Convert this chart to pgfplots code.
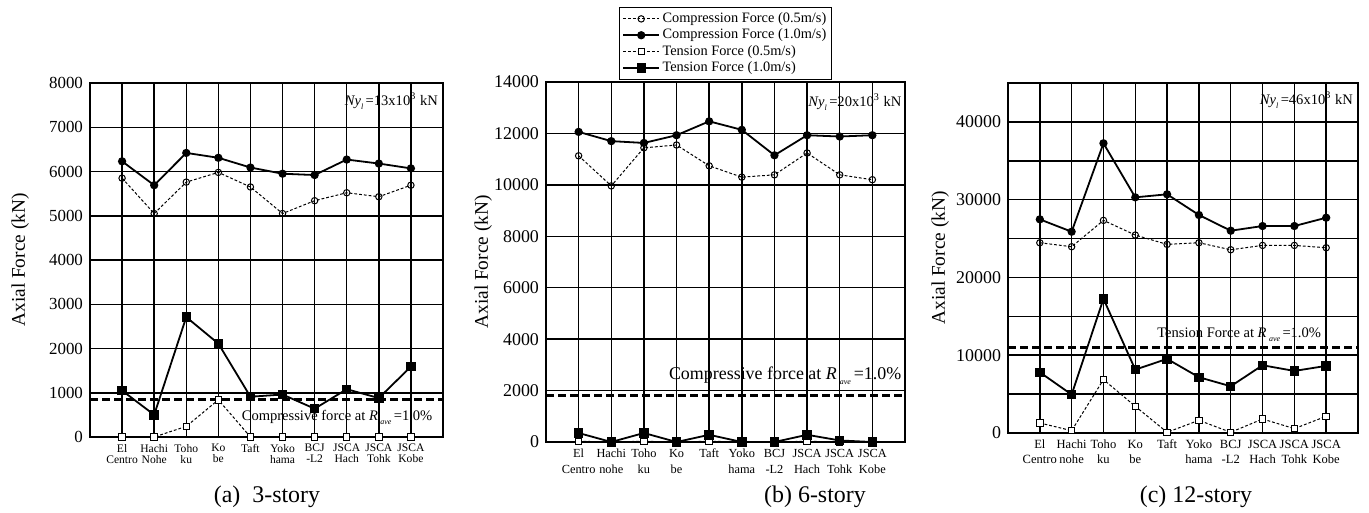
\documentclass[border=0pt]{standalone}
\usepackage{pgfplots}
\pgfplotsset{compat=1.18}
\usepackage{fontspec}
\setmainfont{Liberation Serif}

\newcommand{\sub}[1]{\raisebox{-0.6ex}{\fontsize{4}{4}\selectfont\textit{#1}}}
\newcommand{\nyl}[1]{\textit{Ny}\sub{l}\,=#1x10\textsuperscript{3} kN}
\newcommand{\rave}{\textit{R}\,\sub{ave}\,}

\pgfplotsset{
  panel/.style={
    scale only axis,
    xmin=0, xmax=11,
    xtick={1,...,10},
    grid=major,
    major grid style={black, line width=0.75bp},
    axis line style={line width=0.8bp},
    major tick length=0pt,
    scaled y ticks=false,
    /pgf/number format/assume math mode=true,
    /pgf/number format/1000 sep={},
    yticklabel style={font=\fontsize{9}{9}\selectfont},
    xticklabel style={align=center},
    ylabel={Axial Force (kN)},
    clip=false,
  },
  c05/.style={black, line width=0.5bp, dash pattern=on 1.4bp off 1bp, mark=o, mark size=1.6bp, mark options={solid, fill=white, line width=0.5bp}},
  c10/.style={black, line width=0.9bp, mark=*, mark size=1.6bp, mark options={solid, fill=black}},
  t05/.style={black, line width=0.5bp, dash pattern=on 1.4bp off 1bp, mark=square*, mark size=1.6bp, mark options={solid, fill=white, line width=0.5bp}},
  t10/.style={black, line width=0.9bp, mark=square*, mark size=2.1bp, mark options={solid, fill=black, line width=0.5bp}},
  refl/.style={black, line width=1.4bp, dash pattern=on 4bp off 2bp, forget plot},
}

\begin{document}
\begin{tikzpicture}
\useasboundingbox (0,0) rectangle (684.5bp,256.5bp);

% (a) 3-story
\begin{axis}[panel,
  at={(45bp,38bp)}, anchor=south west,
  width=176.5bp, height=177bp,
  ymin=0, ymax=8000, ytick={0,1000,...,8000},
  yticklabel style={font=\fontsize{8.5}{8.5}\selectfont},
  xticklabels={{El\\Centro},{Hachi\\Nohe},{Toho\\ku},{Ko\\be},{Taft},{Yoko\\hama},{BCJ\\-L2},{JSCA\\Hach},{JSCA\\Tohk},{JSCA\\Kobe}},
  xticklabel style={font=\fontsize{5.8}{5.6}\selectfont},
  ylabel style={at={(axis description cs:-0.198,0.5)}, anchor=center, font=\fontsize{9.7}{10}\selectfont},
]
\addplot[refl] coordinates {(0,840)(11,840)};
\addplot[c05] coordinates {(1,5850)(2,5050)(3,5760)(4,5980)(5,5650)(6,5050)(7,5340)(8,5520)(9,5430)(10,5690)};
\addplot[c10] coordinates {(1,6230)(2,5690)(3,6420)(4,6310)(5,6090)(6,5950)(7,5920)(8,6270)(9,6180)(10,6070)};
\addplot[t05] coordinates {(1,0)(2,0)(3,240)(4,840)(5,0)(6,0)(7,0)(8,0)(9,0)(10,0)};
\addplot[t10] coordinates {(1,1050)(2,500)(3,2710)(4,2110)(5,910)(6,960)(7,640)(8,1080)(9,880)(10,1590)};
\node[anchor=east, inner sep=0, font=\fontsize{7.3}{7.3}\selectfont] at (axis cs:10.85,7600) {\nyl{13}};
\node[anchor=east, inner sep=0, font=\fontsize{7.3}{7.3}\selectfont] at (axis cs:10.68,440) {Compressive force at \rave=1.0\%};
\end{axis}
\node[font=\fontsize{12}{12}\selectfont] at (133.5bp,8bp) {(a)\ \ 3-story};

% (b) 6-story
\begin{axis}[panel,
  at={(273bp,35.5bp)}, anchor=south west,
  width=179.5bp, height=180bp,
  ymin=0, ymax=14000, ytick={0,2000,...,14000},
  xticklabels={{El\\Centro},{Hachi\\nohe},{Toho\\ku},{Ko\\be},{Taft},{Yoko\\hama},{BCJ\\-L2},{JSCA\\Hach},{JSCA\\Tohk},{JSCA\\Kobe}},
  xticklabel style={font=\fontsize{6.2}{8}\selectfont},
  ylabel style={at={(axis description cs:-0.175,0.5)}, anchor=center, font=\fontsize{9.7}{10}\selectfont},
  legend style={at={(0.5,1)}, anchor=south, yshift=1bp, draw=black, line width=0.6bp,
    font=\fontsize{7.2}{7.2}\selectfont, inner sep=1.3bp, row sep=-0.7bp,
    nodes={inner sep=1.2bp}},
  legend cell align=left,
  legend image code/.code={\draw[mark repeat=2, mark phase=2] plot coordinates {(0bp,0bp)(9bp,0bp)(18bp,0bp)};},
]
\addplot[refl] coordinates {(0,1810)(11,1810)};
\addplot[c05] coordinates {(1,11130)(2,9960)(3,11440)(4,11550)(5,10740)(6,10300)(7,10390)(8,11240)(9,10390)(10,10200)};
\addlegendentry{Compression Force (0.5m/s)}
\addplot[c10] coordinates {(1,12060)(2,11700)(3,11630)(4,11930)(5,12470)(6,12140)(7,11150)(8,11930)(9,11880)(10,11930)};
\addlegendentry{Compression Force (1.0m/s)}
\addplot[t05] coordinates {(1,30)(2,0)(3,30)(4,0)(5,30)(6,0)(7,0)(8,30)(9,0)(10,0)};
\addlegendentry{Tension Force (0.5m/s)}
\addplot[t10] coordinates {(1,350)(2,0)(3,350)(4,0)(5,280)(6,0)(7,0)(8,280)(9,60)(10,0)};
\addlegendentry{Tension Force (1.0m/s)}
\node[anchor=east, inner sep=0, font=\fontsize{7.3}{7.3}\selectfont] at (axis cs:10.9,13200) {\nyl{20}};
\node[anchor=east, inner sep=0, font=\fontsize{9}{9}\selectfont] at (axis cs:10.9,2590) {Compressive force at \rave=1.0\%};
\end{axis}
\node[font=\fontsize{12}{12}\selectfont] at (407.5bp,8bp) {(b) 6-story};

% (c) 12-story
\begin{axis}[panel,
  at={(504bp,40bp)}, anchor=south west,
  width=175bp, height=175bp,
  ymin=0, ymax=45000, ytick={0,5000,...,40000},
  yticklabels={0,,10000,,20000,,30000,,40000},
  xticklabels={{El\\Centro},{Hachi\\nohe},{Toho\\ku},{Ko\\be},{Taft},{Yoko\\hama},{BCJ\\-L2},{JSCA\\Hach},{JSCA\\Tohk},{JSCA\\Kobe}},
  xticklabel style={font=\fontsize{6.3}{7.5}\selectfont},
  ylabel style={at={(axis description cs:-0.194,0.5)}, anchor=center, font=\fontsize{9.7}{10}\selectfont},
]
\addplot[refl] coordinates {(0,11000)(11,11000)};
\addplot[c05] coordinates {(1,24460)(2,23950)(3,27340)(4,25450)(5,24250)(6,24460)(7,23560)(8,24120)(9,24120)(10,23820)};
\addplot[c10] coordinates {(1,27470)(2,25880)(3,37250)(4,30300)(5,30690)(6,28030)(7,26010)(8,26610)(9,26610)(10,27680)};
\addplot[t05] coordinates {(1,1290)(2,300)(3,6870)(4,3430)(5,90)(6,1630)(7,90)(8,1800)(9,560)(10,2150)};
\addplot[t10] coordinates {(1,7810)(2,4940)(3,17250)(4,8150)(5,9530)(6,7170)(7,6010)(8,8710)(9,7980)(10,8630)};
\node[anchor=east, inner sep=0, font=\fontsize{7.3}{7.3}\selectfont] at (axis cs:10.85,42800) {\nyl{46}};
\node[anchor=east, inner sep=0, font=\fontsize{7.3}{7.3}\selectfont] at (axis cs:9.85,12660) {Tension Force at \rave=1.0\%};
\end{axis}
\node[font=\fontsize{12}{12}\selectfont] at (598bp,8bp) {(c) 12-story};
\end{tikzpicture}
\end{document}
